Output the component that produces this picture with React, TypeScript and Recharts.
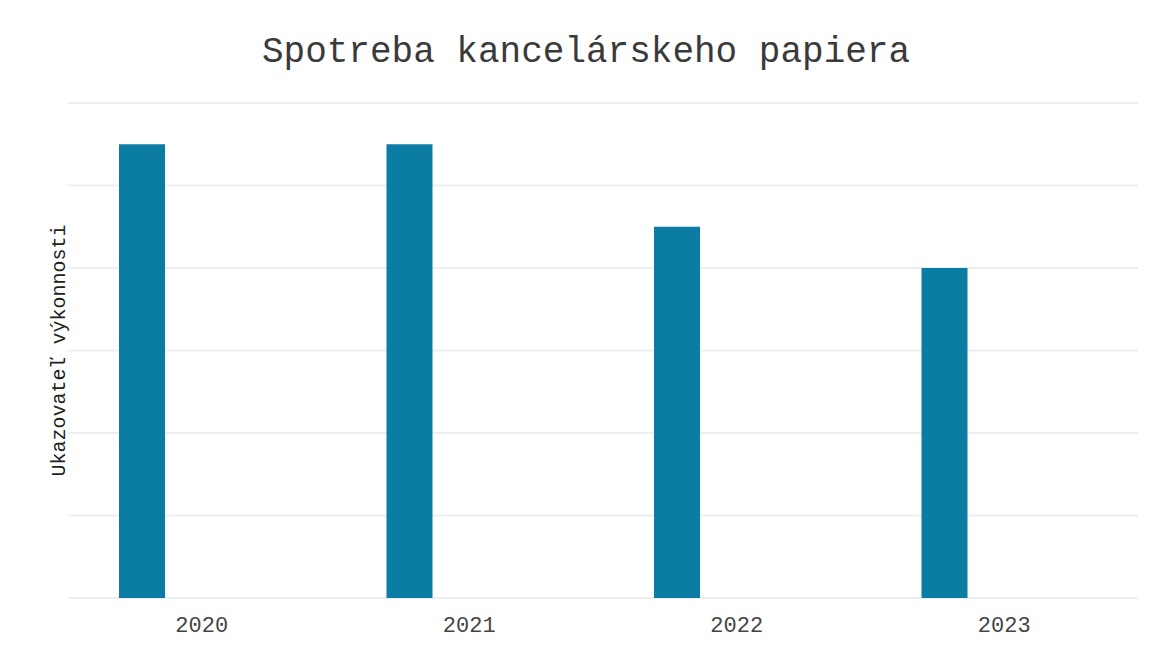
import React from 'react';
import {
  BarChart,
  Bar,
  XAxis,
  YAxis,
  CartesianGrid,
  Label,
} from 'recharts';

const years = ['2020', '2021', '2022', '2023'];
const spotreba = [5.5, 5.5, 4.5, 4.0];
const yTicks = [0, 1, 2, 3, 4, 5, 6];

const data = years.map((year, i) => ({
  year,
  spotreba: spotreba[i],
  prazdne1: null,
  prazdne2: null,
}));

const mono = '"Liberation Mono", "DejaVu Sans Mono", monospace';

// y ticks stay for the grid, but draw no text
const EmptyTick = () => <g />;

const App: React.FC = () => {
  return (
    <div style={{ position: 'absolute', left: 0, top: 0, width: 1152, height: 647, background: '#fff' }}>
      <div
        style={{
          position: 'absolute',
          top: 31,
          left: 10,
          width: 1152,
          textAlign: 'center',
          fontFamily: mono,
          fontSize: 36,
          color: '#3a3a3a',
          lineHeight: '44px',
        }}
      >
        Spotreba kancelárskeho papiera
      </div>
      <BarChart
        width={1152}
        height={647}
        data={data}
        margin={{ top: 103, right: 14, left: 48, bottom: 19 }}
        barSize={46}
        barGap={14}
      >
        <CartesianGrid vertical={false} stroke="#eceff0" strokeWidth={2} />
        <XAxis
          dataKey="year"
          height={30}
          axisLine={false}
          tickLine={false}
          tickMargin={12}
          tick={{ fill: '#444', fontSize: 22, fontFamily: mono }}
        />
        <YAxis
          width={20}
          domain={[0, 6]}
          ticks={yTicks}
          tick={<EmptyTick />}
          axisLine={false}
          tickLine={false}
        >
          <Label
            value="Ukazovateľ výkonnosti"
            angle={-90}
            position="center"
            style={{ fill: '#222', fontSize: 20, fontFamily: mono }}
          />
        </YAxis>
        <Bar dataKey="spotreba" fill="#0b7ca4" isAnimationActive={false} />
        <Bar dataKey="prazdne1" fill="#0b7ca4" isAnimationActive={false} />
        <Bar dataKey="prazdne2" fill="#0b7ca4" isAnimationActive={false} />
      </BarChart>
    </div>
  );
};

export default App;
